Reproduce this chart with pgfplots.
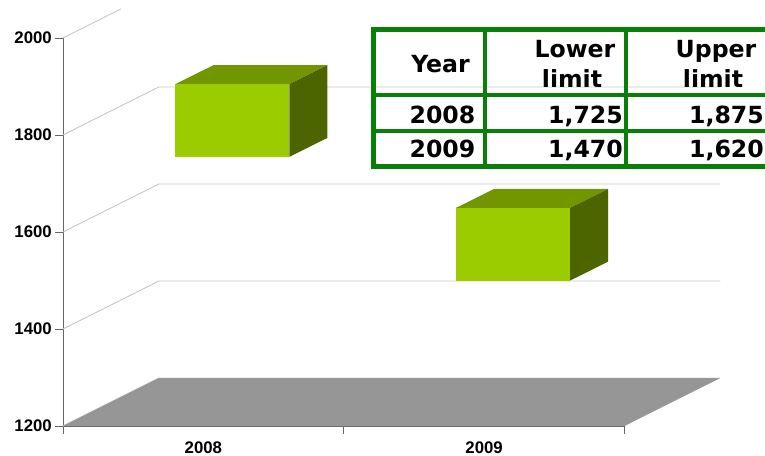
\documentclass[border=0pt]{standalone}
\usepackage{fontspec}
\setmainfont{Liberation Sans}
\newfontfamily\tablefont{DejaVu Sans}
\usepackage{pgfplots}
\pgfplotsset{compat=1.18}
\definecolor{barfront}{HTML}{9BCC00}
\definecolor{bartop}{HTML}{729600}
\definecolor{barside}{HTML}{4D6500}
\definecolor{floorgray}{HTML}{969696}
\definecolor{gridgray}{HTML}{C6C6C6}
\definecolor{axisgray}{HTML}{666666}
\definecolor{tablegreen}{HTML}{088008}
\newcommand{\tabtext}[4]{\node[anchor=#1,inner sep=0pt,font=\tablefont\bfseries\fontsize{23.6}{24}\selectfont] at (#2pt-63pt,426pt-#3pt) {#4};}
\begin{document}
\begin{tikzpicture}[x=1pt,y=1pt]
\path[clip,use as bounding box] (-63,-29) rectangle (702,426);
\begin{axis}[
  scale only axis, width=561.5pt, height=388pt,
  xmin=0, xmax=2, ymin=1200, ymax=2000,
  clip=false,
  axis y line*=left, axis x line*=bottom,
  y axis line style={axisgray, line width=1pt, -},
  x axis line style={axisgray, line width=1.8pt, -},
  xtick={0.5,1.5}, xticklabels={2008,2009},
  minor xtick={0,1,2},
  ytick={1200,1400,1600,1800,2000},
  major x tick style={draw=none},
  minor x tick style={axisgray, line width=0.8pt},
  y tick style={axisgray, line width=1pt},
  tick align=outside,
  major tick length=8pt, minor tick length=8pt,
  yticklabel style={font=\bfseries\fontsize{16.8}{17}\selectfont, inner sep=0pt, xshift=-3pt},
  xticklabel style={font=\bfseries\fontsize{16.8}{17}\selectfont, inner sep=0pt, yshift=-8pt},
  /pgf/number format/assume math mode=true,
  /pgf/number format/1000 sep={},
  enlargelimits=false,
]
% wall and back grid
\addplot[gridgray, line width=0.9pt] coordinates {(0,1200) (0.3416,1299)};
\addplot[gridgray, line width=0.9pt] coordinates {(0,1400) (0.3416,1499) (2.3416,1499)};
\addplot[gridgray, line width=0.9pt] coordinates {(0,1600) (0.3416,1699) (2.3416,1699)};
\addplot[gridgray, line width=0.9pt] coordinates {(0,1800) (0.3416,1899) (2.3416,1899)};
\addplot[gridgray, line width=0.9pt] coordinates {(0,2000) (0.206,2060)};
% floor
\addplot[fill=floorgray, draw=none] coordinates {(0,1200) (0.3416,1299) (2.3416,1299) (2,1200)} --cycle;
% 2008 bar: lower 1725, upper 1875
\addplot[fill=bartop, draw=none, xshift=29pt, yshift=14.5pt] coordinates {(0.297,1875) (0.703,1875) (0.8382,1914) (0.4322,1914)} --cycle;
\addplot[fill=barside, draw=none, xshift=29pt, yshift=14.5pt] coordinates {(0.703,1725) (0.703,1875) (0.8382,1914) (0.8382,1764)} --cycle;
\addplot[fill=barfront, draw=none, xshift=29pt, yshift=14.5pt] coordinates {(0.297,1725) (0.703,1725) (0.703,1875) (0.297,1875)} --cycle;
% 2009 bar: lower 1470, upper 1620
\addplot[fill=bartop, draw=none, xshift=29pt, yshift=14.5pt] coordinates {(1.297,1620) (1.703,1620) (1.8382,1659) (1.4322,1659)} --cycle;
\addplot[fill=barside, draw=none, xshift=29pt, yshift=14.5pt] coordinates {(1.703,1470) (1.703,1620) (1.8382,1659) (1.8382,1509)} --cycle;
\addplot[fill=barfront, draw=none, xshift=29pt, yshift=14.5pt] coordinates {(1.297,1470) (1.703,1470) (1.703,1620) (1.297,1620)} --cycle;
\end{axis}
% table
\begin{scope}[tablegreen]
\draw[line width=4.7pt] (373.5pt-63pt,426pt-29.5pt) rectangle (775pt-63pt,426pt-166.5pt);
\draw[line width=3.7pt] (485pt-63pt,426pt-29.5pt) -- (485pt-63pt,426pt-166.5pt);
\draw[line width=3.7pt] (626pt-63pt,426pt-29.5pt) -- (626pt-63pt,426pt-166.5pt);
\draw[line width=3.7pt] (373.5pt-63pt,426pt-95pt) -- (775pt-63pt,426pt-95pt);
\draw[line width=3.7pt] (373.5pt-63pt,426pt-131pt) -- (775pt-63pt,426pt-131pt);
\end{scope}
\tabtext{base}{440.5}{72.5}{Year}
\tabtext{base}{575}{57.5}{Lower}
\tabtext{base}{572}{87.5}{limit}
\tabtext{base}{716}{57.5}{Upper}
\tabtext{base}{713}{87.5}{limit}
\tabtext{base east}{475.5}{123.5}{2008}
\tabtext{base east}{623}{123.5}{1,725}
\tabtext{base east}{764}{123.5}{1,875}
\tabtext{base east}{475.5}{157.5}{2009}
\tabtext{base east}{623}{157.5}{1,470}
\tabtext{base east}{764}{157.5}{1,620}
\end{tikzpicture}
\end{document}
